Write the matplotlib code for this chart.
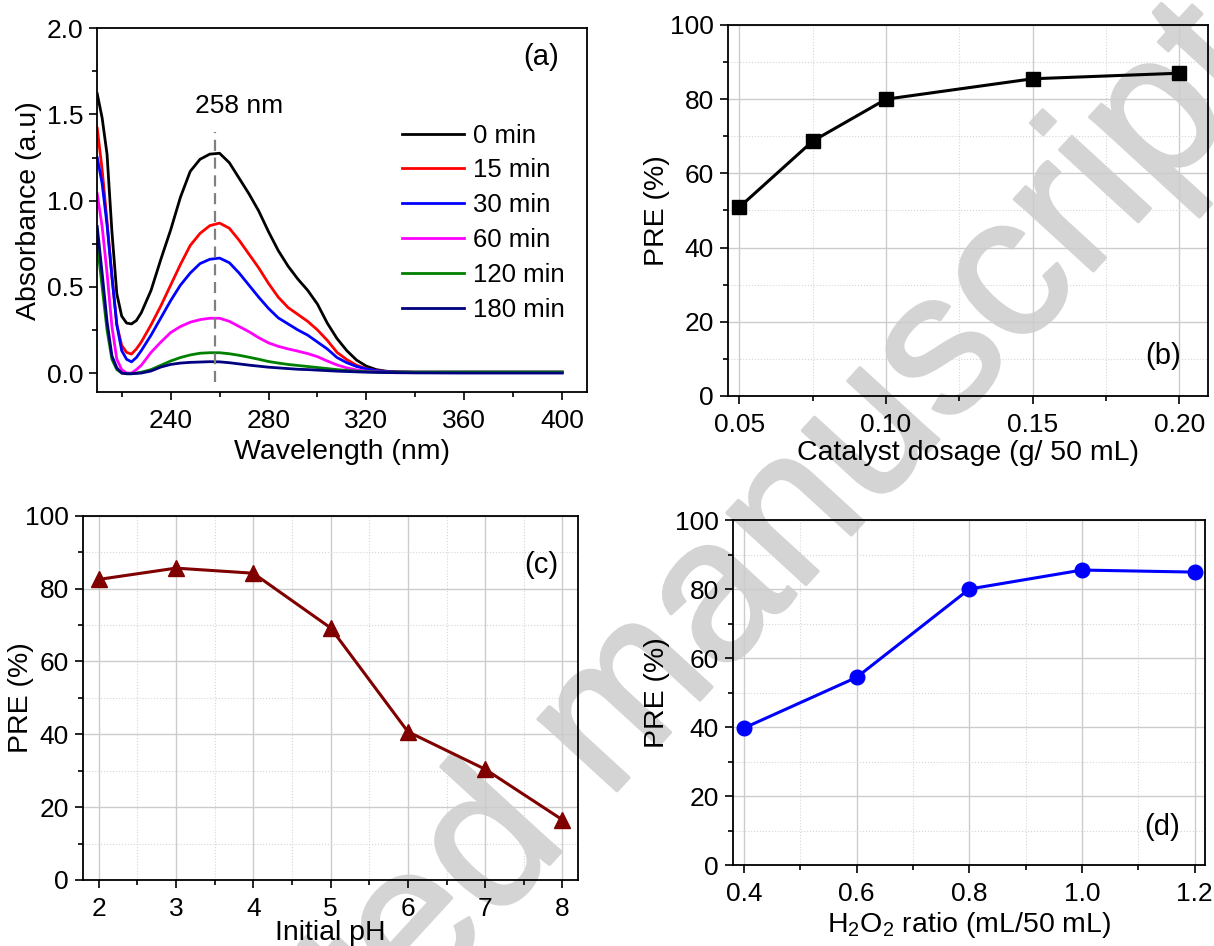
import matplotlib.pyplot as plt
import matplotlib.patheffects as pe
from matplotlib.ticker import MultipleLocator

plt.rcParams['font.family'] = ['Liberation Sans', 'DejaVu Sans']
plt.rcParams['mathtext.fontset'] = 'custom'
plt.rcParams['mathtext.rm'] = 'Liberation Sans'

# (a) UV-vis spectra
wavelength = [210, 212, 214, 216, 218, 220, 222, 224, 226, 228, 232, 236, 240, 244, 248,
              252, 256, 260, 264, 268, 272, 276, 280, 284, 288, 292, 296, 300, 304, 308,
              312, 316, 320, 324, 328, 332, 340, 360, 380, 400]
abs_0 = [1.62, 1.48, 1.27, 0.82, 0.46, 0.33, 0.29, 0.285, 0.305, 0.35, 0.48, 0.66, 0.83, 1.02, 1.17,
         1.24, 1.27, 1.275, 1.22, 1.13, 1.04, 0.94, 0.82, 0.71, 0.62, 0.545, 0.48, 0.40, 0.29, 0.20,
         0.13, 0.075, 0.04, 0.02, 0.011, 0.007, 0.005, 0.005, 0.005, 0.005]
abs_15 = [1.42, 1.18, 0.88, 0.56, 0.28, 0.16, 0.12, 0.11, 0.14, 0.18, 0.28, 0.39, 0.51, 0.63, 0.74,
          0.81, 0.855, 0.87, 0.84, 0.77, 0.69, 0.61, 0.52, 0.44, 0.38, 0.34, 0.30, 0.25, 0.19, 0.12,
          0.078, 0.045, 0.025, 0.014, 0.009, 0.006, 0.005, 0.005, 0.005, 0.005]
abs_30 = [1.25, 1.10, 0.86, 0.56, 0.28, 0.13, 0.08, 0.065, 0.09, 0.13, 0.22, 0.32, 0.42, 0.51, 0.58,
          0.635, 0.66, 0.667, 0.64, 0.58, 0.51, 0.44, 0.375, 0.32, 0.285, 0.25, 0.22, 0.18, 0.14, 0.09,
          0.06, 0.038, 0.024, 0.014, 0.009, 0.006, 0.005, 0.005, 0.005, 0.005]
abs_60 = [1.04, 0.85, 0.58, 0.27, 0.08, 0.02, 0.0, 0.0, 0.02, 0.045, 0.12, 0.18, 0.235, 0.27, 0.295,
          0.31, 0.318, 0.318, 0.30, 0.27, 0.24, 0.205, 0.175, 0.155, 0.14, 0.127, 0.113, 0.095, 0.07, 0.047,
          0.03, 0.018, 0.011, 0.007, 0.005, 0.004, 0.003, 0.003, 0.003, 0.003]
abs_120 = [0.75, 0.50, 0.25, 0.08, 0.02, 0.0, -0.004, -0.004, 0.0, 0.005, 0.02, 0.045, 0.07, 0.09, 0.105,
           0.115, 0.118, 0.118, 0.112, 0.103, 0.092, 0.08, 0.067, 0.058, 0.05, 0.044, 0.038, 0.032, 0.026, 0.02,
           0.015, 0.011, 0.008, 0.006, 0.005, 0.005, 0.005, 0.006, 0.006, 0.006]
abs_180 = [0.85, 0.58, 0.30, 0.10, 0.03, 0.0, -0.004, -0.004, -0.002, 0.0, 0.012, 0.035, 0.05, 0.058, 0.062,
           0.064, 0.066, 0.065, 0.06, 0.053, 0.046, 0.04, 0.034, 0.03, 0.026, 0.022, 0.02, 0.017, 0.014, 0.011,
           0.009, 0.007, 0.005, 0.004, 0.003, 0.002, 0.001, 0.0, 0.0, 0.0]
spectra = [abs_0, abs_15, abs_30, abs_60, abs_120, abs_180]
time_labels = ['0 min', '15 min', '30 min', '60 min', '120 min', '180 min']
spec_colors = ['black', 'red', 'blue', 'magenta', 'green', 'navy']

# (b) catalyst dosage
dosage = [0.05, 0.075, 0.10, 0.15, 0.20]
pre_dosage = [50.9, 68.7, 80.0, 85.5, 87.0]

# (c) initial pH
ph = [2, 3, 4, 5, 6, 7, 8]
pre_ph = [82.5, 85.6, 84.2, 69.2, 40.7, 30.4, 16.5]

# (d) H2O2 ratio
h2o2 = [0.4, 0.6, 0.8, 1.0, 1.2]
pre_h2o2 = [39.7, 54.4, 80.0, 85.5, 84.9]

TICK = 19
LABEL = 20.5
TAG = 21

fig = plt.figure(figsize=(12.14, 9.46), dpi=100)
ax_a = fig.add_axes([0.0801, 0.5856, 0.4031, 0.3845])
ax_b = fig.add_axes([0.5994, 0.5814, 0.3959, 0.3922])
ax_c = fig.add_axes([0.0681, 0.0698, 0.4084, 0.3851])
ax_d = fig.add_axes([0.6035, 0.0856, 0.3890, 0.3647])

for ax in (ax_a, ax_b, ax_c, ax_d):
    ax.set_facecolor('none')
    ax.set_zorder(1)
    for s in ax.spines.values():
        s.set_linewidth(1.3)
    ax.tick_params(which='both', direction='out', top=False, right=False,
                   labelsize=TICK, width=1.2, pad=4)
    ax.tick_params(which='major', length=6)
    ax.tick_params(which='minor', length=3.5)

# watermark
wm_color = '#d4d4d4'
fig.text(0.494, 0.225, 'Accepted manuscript', fontsize=145, color=wm_color,
         rotation=47.5, rotation_mode='anchor', ha='center', va='center', zorder=0,
         path_effects=[pe.withStroke(linewidth=2.5, foreground=wm_color)])

# (a)
for y, lab, c in zip(spectra, time_labels, spec_colors):
    ax_a.plot(wavelength, y, color=c, lw=2.0, label=lab)
ax_a.plot([258, 258], [-0.052, 1.40], color='gray', lw=1.6, ls=(0, (5, 3)))
ax_a.text(268, 1.55, '258 nm', fontsize=TICK, ha='center', va='center')
ax_a.text(0.908, 0.92, '(a)', fontsize=TAG, ha='center', va='center', transform=ax_a.transAxes)
ax_a.set_xlim(210, 410)
ax_a.set_ylim(-0.11, 2.0)
ax_a.xaxis.set_minor_locator(MultipleLocator(20))
ax_a.yaxis.set_major_locator(MultipleLocator(0.5))
ax_a.yaxis.set_minor_locator(MultipleLocator(0.25))
ax_a.set_xticks([240, 280, 320, 360, 400])
ax_a.yaxis.set_major_formatter(plt.FormatStrFormatter('%.1f'))
ax_a.tick_params(axis='x', pad=6)
ax_a.legend(loc='upper left', bbox_to_anchor=(0.6226, 0.738), frameon=False, fontsize=18.5,
            handlelength=2.4, handletextpad=0.35, labelspacing=0.42, borderpad=0, borderaxespad=0)
ax_a.set_xlabel('Wavelength (nm)', fontsize=LABEL)
ax_a.set_ylabel('Absorbance (a.u)', fontsize=LABEL)
ax_a.xaxis.set_label_coords(0.5, -0.165)
ax_a.yaxis.set_label_coords(-0.1396, 0.5)

# shared style for PRE panels
def pre_style(ax, xlabel, ylab_x, xlab_y):
    ax.set_ylim(0, 100)
    ax.yaxis.set_major_locator(MultipleLocator(20))
    ax.yaxis.set_minor_locator(MultipleLocator(10))
    ax.grid(which='major', color='#cccccc', lw=1.0)
    ax.grid(which='minor', color='#d6d6d6', lw=0.8, ls=':')
    ax.set_axisbelow(True)
    ax.set_ylabel('PRE (%)', fontsize=LABEL)
    ax.set_xlabel(xlabel, fontsize=LABEL)
    ax.yaxis.set_label_coords(ylab_x, 0.5)
    ax.xaxis.set_label_coords(0.5, xlab_y)
    ax.tick_params(axis='x', pad=6)

# (b)
ax_b.plot(dosage, pre_dosage, color='black', lw=2.2, marker='s', ms=10)
ax_b.set_xlim(0.046, 0.2099)
ax_b.xaxis.set_major_locator(MultipleLocator(0.05))
ax_b.xaxis.set_minor_locator(MultipleLocator(0.025))
ax_b.xaxis.set_major_formatter(plt.FormatStrFormatter('%.2f'))
pre_style(ax_b, 'Catalyst dosage (g/ 50 mL)', -0.147, -0.154)
ax_b.text(0.907, 0.108, '(b)', fontsize=TAG, ha='center', va='center', transform=ax_b.transAxes)

# (c)
ax_c.plot(ph, pre_ph, color='#800000', lw=2.2, marker='^', ms=12)
ax_c.set_xlim(1.793, 8.207)
ax_c.xaxis.set_major_locator(MultipleLocator(1))
ax_c.xaxis.set_minor_locator(MultipleLocator(0.5))
pre_style(ax_c, 'Initial pH', -0.1244, -0.1455)
ax_c.text(0.926, 0.865, '(c)', fontsize=TAG, ha='center', va='center', transform=ax_c.transAxes)

# (d)
ax_d.plot(h2o2, pre_h2o2, color='blue', lw=2.2, marker='o', ms=10.5)
ax_d.set_xlim(0.380, 1.218)
ax_d.xaxis.set_major_locator(MultipleLocator(0.2))
ax_d.xaxis.set_minor_locator(MultipleLocator(0.1))
ax_d.xaxis.set_major_formatter(plt.FormatStrFormatter('%.1f'))
pre_style(ax_d, r'$\mathregular{H_2O_2}$ ratio (mL/50 mL)', -0.160, -0.174)
ax_d.text(0.909, 0.111, '(d)', fontsize=TAG, ha='center', va='center', transform=ax_d.transAxes)

for ax in (ax_a, ax_b, ax_c, ax_d):
    ax.xaxis.label.set_va('center')
    ax.yaxis.label.set_va('center')

fig.savefig('out.png', dpi=100)
